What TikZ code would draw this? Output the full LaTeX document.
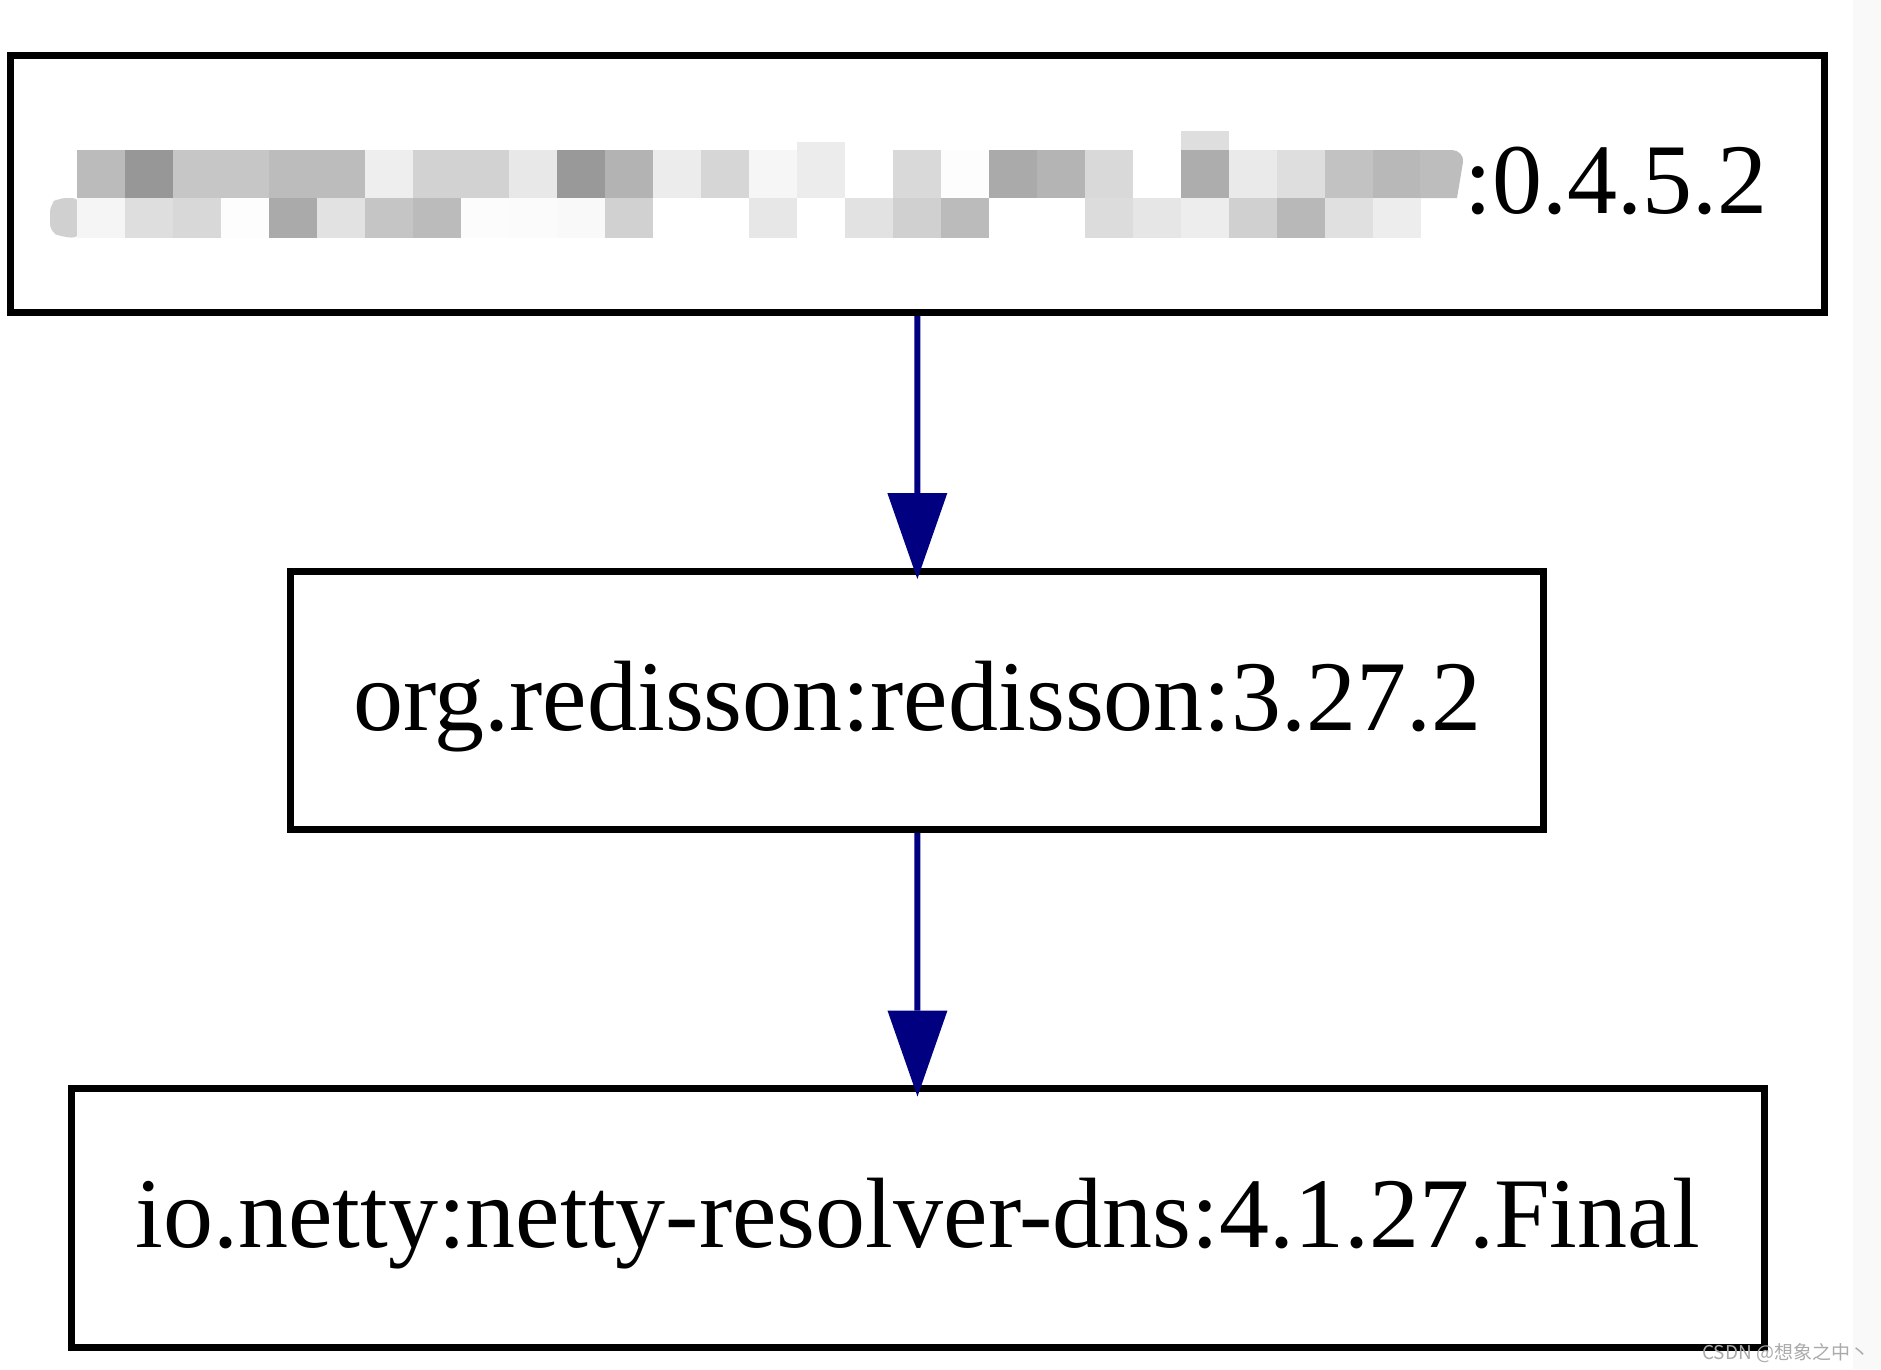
\documentclass[tikz,border=0pt]{standalone}
\usepackage{fontspec}
\setmainfont{Liberation Serif}
\newfontfamily\cjkfont{Noto Sans CJK SC}
\usetikzlibrary{arrows.meta}
\definecolor{edgenavy}{RGB}{0,0,128}
\definecolor{stripgray}{RGB}{249,249,249}
\definecolor{wmgray}{RGB}{170,170,170}
\definecolor{blobgray}{RGB}{208,208,208}
\begin{document}
\begin{tikzpicture}[x=1pt,y=-1pt,
  depbox/.style={draw=black,line width=7pt,inner sep=0pt,outer sep=0pt,
    font=\fontsize{100}{120}\selectfont,text height=80pt,text depth=20pt},
  deparrow/.style={draw=edgenavy,line width=6pt,shorten <=3.5pt,shorten >=-8pt,
    -{Triangle[width=60pt,length=86pt,line width=0pt,fill=edgenavy]}}]
\useasboundingbox (0,0) rectangle (1881,1369);
\fill[stripgray] (1853,0) rectangle (1881,1369);
% boxes
\node[depbox,minimum width=1813.5pt,minimum height=257.5pt] (b1) at (917.25,183.75) {};
\node[depbox,minimum width=1253pt,minimum height=258.5pt] (b2) at (917.4,700.25) {org.redisson:redisson:3.27.2};
\node[depbox,minimum width=1693pt,minimum height=258.5pt] (b3) at (917.5,1217.75) {io.netty:netty-resolver-dns:4.1.27.Final};
% pixelated (obscured) part of the first label
\fill[blobgray,rounded corners=8pt] (50,204) -- (58,198) -- (80,198) -- (80,238) -- (62,237) -- (50,232) -- cycle;
\foreach \c [count=\k from 0] in {187,151,198,198,188,188,238,210,210,232,153,179,236,214,246,236,255,217,253,170,180,217,255,173,234,222,194,184}{
  \definecolor{mc}{RGB}{\c,\c,\c}
  \fill[mc] ({77+48*\k},150) rectangle ({125+48*\k},198.5);
}
\foreach \c [count=\k from 0] in {245,222,216,253,170,226,197,187,252,251,249,209,255,255,231,255,226,208,187,255,255,220,230,237,208,184,224,237}{
  \definecolor{mc}{RGB}{\c,\c,\c}
  \fill[mc] ({77+48*\k},198) rectangle ({125+48*\k},238);
}
\definecolor{mc}{RGB}{236,236,236}
\fill[mc] (797,142) rectangle (845,150);
\definecolor{mc}{RGB}{222,222,222}
\fill[mc] (1181,131) rectangle (1229,150);
\definecolor{mc}{RGB}{189,189,189}
\fill[mc] (1420,150) -- (1452,150) to[out=0,in=80] (1463,162) -- (1457,198) -- (1420,198) -- cycle;
\node[inner sep=0pt,anchor=base west,font=\fontsize{100}{120}\selectfont] (v1) at (1464,213.75) {:0.4.5.2};
% edges
\draw[deparrow] (b1) -- (b2);
\draw[deparrow] (b2) -- (b3);
% watermark
\node[inner sep=0pt,anchor=base west,text=wmgray,font=\fontsize{19}{22}\selectfont\cjkfont] (wm) at (1702,1359) {CSDN @想象之中丶};
\end{tikzpicture}
\end{document}
